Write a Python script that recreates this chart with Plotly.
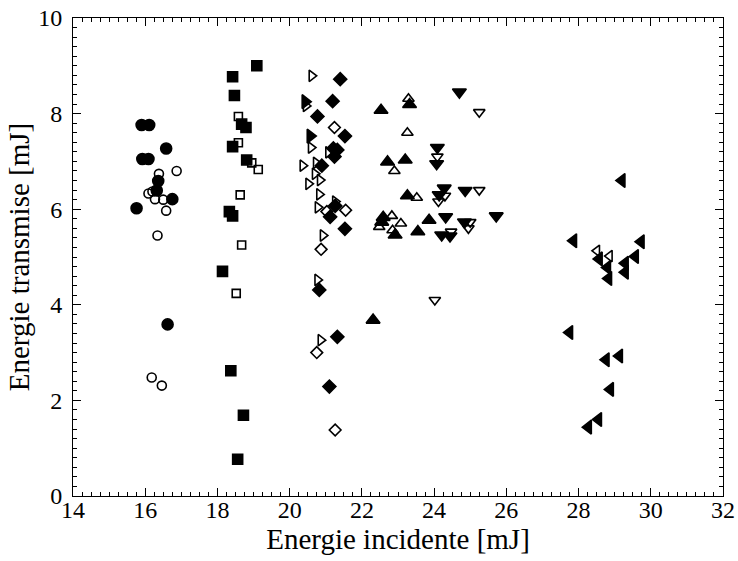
import plotly.graph_objects as go

# filled circles
circ_f_x = [15.90, 16.11, 16.58, 15.92, 16.09, 16.36, 16.32, 16.75, 15.76, 16.62]
circ_f_y = [7.76, 7.76, 7.27, 7.05, 7.05, 6.59, 6.39, 6.21, 6.02, 3.59]
# open circles
circ_o_x = [16.38, 16.87, 16.09, 16.20, 16.27, 16.50, 16.58, 16.34, 16.18, 16.46]
circ_o_y = [6.74, 6.80, 6.33, 6.37, 6.21, 6.20, 5.97, 5.45, 2.48, 2.31]

# filled squares
sq_f_x = [19.09, 18.42, 18.47, 18.67, 18.79, 18.42, 18.81, 18.33, 18.42, 18.14, 18.37, 18.72, 18.56]
sq_f_y = [9.00, 8.77, 8.38, 7.78, 7.71, 7.31, 7.03, 5.95, 5.86, 4.70, 2.62, 1.69, 0.77]
# open squares
sq_o_x = [18.58, 18.58, 18.95, 19.13, 18.63, 18.67, 18.52]
sq_o_y = [7.94, 7.39, 6.97, 6.83, 6.30, 5.25, 4.24]

# open right triangles
tr_o_x = [20.61, 20.45, 20.59, 21.07, 20.36, 20.73, 20.70, 20.84, 20.52, 20.82, 20.78, 21.26, 20.92, 20.77, 20.86]
tr_o_y = [8.79, 8.16, 7.29, 7.19, 6.91, 6.97, 6.74, 6.61, 6.53, 6.31, 6.04, 6.16, 5.45, 4.52, 3.26]
# filled right triangles
tr_f_x = [20.43, 20.57]
tr_f_y = [8.25, 7.53]

# filled diamonds
dm_f_x = [21.40, 21.19, 20.77, 21.53, 21.21, 21.32, 21.24, 20.89, 21.26, 21.12, 21.53, 20.82, 21.32, 21.10]
dm_f_y = [8.72, 8.26, 7.94, 7.53, 7.27, 7.24, 7.10, 6.91, 6.07, 5.84, 5.59, 4.31, 3.33, 2.29]
# open diamonds
dm_o_x = [21.24, 21.03, 21.55, 20.87, 20.75, 21.26]
dm_o_y = [7.71, 5.95, 5.98, 5.16, 3.00, 1.38]

# filled up triangles
tu_f_x = [22.53, 23.32, 22.71, 23.20, 23.26, 22.59, 22.55, 23.86, 23.55, 22.92, 22.31]
tu_f_y = [8.07, 8.19, 6.99, 7.03, 6.28, 5.83, 5.73, 5.77, 5.53, 5.46, 3.68]
# open up triangles
tu_o_x = [23.29, 23.26, 22.90, 23.52, 22.83, 22.48, 23.08, 22.85]
tu_o_y = [8.31, 7.60, 6.80, 6.24, 5.86, 5.63, 5.70, 5.56]

# filled down triangles
td_f_x = [24.70, 24.09, 24.07, 24.28, 24.14, 24.86, 24.32, 24.84, 25.72, 24.21, 24.44]
td_f_y = [8.45, 7.29, 6.95, 6.44, 6.30, 6.39, 5.84, 5.73, 5.86, 5.46, 5.44]
# open down triangles
td_o_x = [25.25, 24.09, 25.25, 24.12, 24.30, 25.00, 24.95, 24.47, 24.02]
td_o_y = [8.03, 7.10, 6.40, 6.16, 6.28, 5.73, 5.60, 5.53, 4.10]

# filled left triangles
tl_f_x = [29.20, 27.86, 29.73, 29.57, 28.57, 28.80, 29.29, 29.29, 28.83, 27.75, 29.13, 28.76, 28.88, 28.55, 28.27]
tl_f_y = [6.60, 5.34, 5.32, 5.01, 4.96, 4.78, 4.87, 4.68, 4.55, 3.42, 2.93, 2.85, 2.23, 1.60, 1.44]
# open left triangles
tl_o_x = [28.51, 28.86]
tl_o_y = [5.13, 5.02]

SERIF = 'Liberation Serif, Times New Roman, Times, serif'

fig = go.Figure()

def add(x, y, symbol, size):
    fig.add_trace(go.Scatter(
        x=x, y=y, mode='markers',
        marker=dict(symbol=symbol, size=size, color='black',
                    line=dict(color='black', width=1.6)),
        showlegend=False, hoverinfo='x+y'))

add(circ_f_x, circ_f_y, 'circle', 11)
add(circ_o_x, circ_o_y, 'circle-open', 9)
add(sq_f_x, sq_f_y, 'square', 10)
add(sq_o_x, sq_o_y, 'square-open', 8)
add(tr_o_x, tr_o_y, 'triangle-right-open', 10)
add(tr_f_x, tr_f_y, 'triangle-right', 12)
add(dm_f_x, dm_f_y, 'diamond', 10)
add(dm_o_x, dm_o_y, 'diamond-open', 9)
add(tu_f_x, tu_f_y, 'triangle-up', 12)
add(tu_o_x, tu_o_y, 'triangle-up-open', 10)
add(td_f_x, td_f_y, 'triangle-down', 12)
add(td_o_x, td_o_y, 'triangle-down-open', 10)
add(tl_f_x, tl_f_y, 'triangle-left', 12)
add(tl_o_x, tl_o_y, 'triangle-left-open', 10)

# invisible trace so the top / right axes exist (mirrored ticks)
fig.add_trace(go.Scatter(x=[None], y=[None], xaxis='x2', yaxis='y2',
                         showlegend=False, hoverinfo='skip'))

tick_style = dict(
    ticks='inside', ticklen=8, tickcolor='black', tickwidth=1,
    showgrid=False, zeroline=False, automargin=False,
    showline=True, linecolor='black', linewidth=1,
)
lab_font = dict(family=SERIF, size=24, color='black')
title_font = dict(family=SERIF, size=29, color='black')

fig.update_layout(
    width=738, height=561,
    margin=dict(l=73, r=15, t=18, b=65),
    plot_bgcolor='white', paper_bgcolor='white',
    font=dict(family=SERIF, color='black'),
    xaxis=dict(range=[14, 32], dtick=2, tick0=14,
               minor=dict(ticks='inside', dtick=0.25, ticklen=4, tickcolor='black'),
               tickfont=lab_font, ticklabelstandoff=-8,
               title=dict(text='Energie incidente [mJ]', standoff=6, font=title_font),
               **tick_style),
    yaxis=dict(range=[0, 10], dtick=2, tick0=0,
               minor=dict(ticks='inside', dtick=0.2, ticklen=4, tickcolor='black'),
               tickfont=lab_font, ticklabelstandoff=5,
               title=dict(text='Energie transmise [mJ]', standoff=0, font=title_font),
               **tick_style),
    xaxis2=dict(range=[14, 32], dtick=2, tick0=14, overlaying='x', side='top',
                showticklabels=False,
                minor=dict(ticks='inside', dtick=0.25, ticklen=4, tickcolor='black'),
                **tick_style),
    yaxis2=dict(range=[0, 10], dtick=2, tick0=0, overlaying='y', side='right',
                showticklabels=False,
                minor=dict(ticks='inside', dtick=0.2, ticklen=4, tickcolor='black'),
                **tick_style),
)

# drop the default page margin so the figure sits at the window's corner
fig.write_html("out.html", config={'displayModeBar': False},
               post_script="document.body.style.margin='0';")
